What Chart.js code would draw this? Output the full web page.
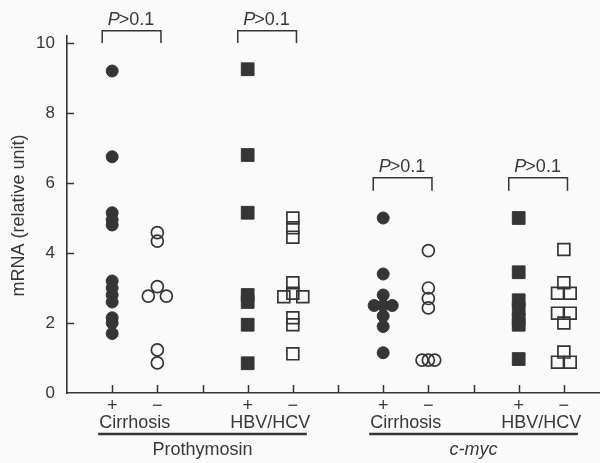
<!DOCTYPE html>
<html><head><meta charset="utf-8">
<script src="https://cdn.jsdelivr.net/npm/chart.js@4"></script>
<style>html,body{margin:0;padding:0;background:#fafafa}#wrap{width:600px;height:463px}</style>
</head><body><div id="wrap"><canvas id="c" width="600" height="463"></canvas></div>
<script>
// ---- data ----
const categories = ['Prothymosin Cirrhosis +','Prothymosin Cirrhosis −','Prothymosin HBV/HCV +','Prothymosin HBV/HCV −','c-myc Cirrhosis +','c-myc Cirrhosis −','c-myc HBV/HCV +','c-myc HBV/HCV −'];
const groupPositions = [1,2,4,5,7,8,10,11];
const xTickPositions = [1,2,3,4,5,6,7,8,9,10,11];
const signLabels = ['+','−'];
const subGroupLabels = ['Cirrhosis','HBV/HCV','Cirrhosis','HBV/HCV'];
const geneLabels = ['Prothymosin','c-myc'];
const yTicks = [0,2,4,6,8,10];
const yTitle = 'mRNA (relative unit)';
const pLabel = '>0.1';

const prothyCirrPos   = [9.2,6.75,5.15,4.95,4.8,3.2,3.0,2.8,2.6,2.15,2.0,1.7];
const prothyCirrPosDx = [0,0,0,0,0,0,0,0,0,0,0,0];
const prothyCirrNeg   = [4.58,4.34,3.04,2.77,2.77,1.23,0.86];
const prothyCirrNegDx = [0,0,0,-0.2,0.2,0,0];
const prothyHbvPos    = [9.25,6.8,5.15,2.8,2.6,1.95,0.85];
const prothyHbvPosDx  = [0,0,0,0,0,0,0];
const prothyHbvNeg    = [5.0,4.72,4.45,3.15,2.85,2.75,2.75,2.15,1.95,1.12];
const prothyHbvNegDx  = [0,0,0,0,0,-0.2,0.22,0,0,0];
const mycCirrPos      = [5.0,3.4,2.8,2.5,2.5,2.5,2.2,1.9,1.15];
const mycCirrPosDx    = [0,0,0,-0.2,0,0.2,0,0,0];
const mycCirrNeg      = [4.07,3.0,2.7,2.43,0.94,0.94,0.94];
const mycCirrNegDx    = [0,0,0,0,-0.14,0,0.14];
const mycHbvPos       = [5.0,3.45,2.65,2.4,2.1,1.95,0.97];
const mycHbvPosDx     = [0,0,0,0,0,0,0];
const mycHbvNeg       = [4.1,3.15,2.85,2.85,2.28,2.28,2.0,1.17,0.88,0.88];
const mycHbvNegDx     = [0,0,-0.14,0.14,-0.14,0.14,0,0,-0.14,0.14];

// brackets: [left group index, right group index, top value, leg bottom value]
const brackets = [[0,1,10.35,10.0],[2,3,10.35,10.0],[4,5,6.15,5.78],[6,7,6.15,5.78]];

const seriesValues = [prothyCirrPos,prothyCirrNeg,prothyHbvPos,prothyHbvNeg,mycCirrPos,mycCirrNeg,mycHbvPos,mycHbvNeg];
const seriesDx = [prothyCirrPosDx,prothyCirrNegDx,prothyHbvPosDx,prothyHbvNegDx,mycCirrPosDx,mycCirrNegDx,mycHbvPosDx,mycHbvNegDx];

const INK = '#353535';
const TXT = '#383838';
const FONT = '"Liberation Sans", Arial, sans-serif';

const datasets = categories.map((name, i) => {
  const filled = i % 2 === 0;
  const isRect = Math.floor(i / 2) % 2 === 1;
  return {
    label: name,
    data: seriesValues[i].map((v, k) => ({x: groupPositions[i] + seriesDx[i][k], y: v})),
    pointStyle: isRect ? 'rect' : 'circle',
    pointRadius: isRect ? (filled ? 9 : 8.4) : 6,
    pointBackgroundColor: filled ? INK : 'rgba(0,0,0,0)',
    pointBorderColor: INK,
    pointBorderWidth: filled ? 1 : 1.7,
    showLine: false
  };
});

const annot = {
  id: 'annot',
  afterDraw(chart) {
    const ctx = chart.ctx, xs = chart.scales.x, ys = chart.scales.y;
    const area = chart.chartArea;
    ctx.save();
    ctx.strokeStyle = INK; ctx.lineWidth = 1.5;
    // inward ticks
    xs.ticks.forEach(t => {
      const px = Math.round(xs.getPixelForValue(t.value)) + 0.5;
      ctx.beginPath(); ctx.moveTo(px, area.bottom); ctx.lineTo(px, area.bottom - 8); ctx.stroke();
    });
    ys.ticks.forEach(t => {
      if (t.value === 0) return;
      const py = Math.round(ys.getPixelForValue(t.value)) + 0.5;
      ctx.beginPath(); ctx.moveTo(area.left, py); ctx.lineTo(area.left + 7, py); ctx.stroke();
    });
    ctx.fillStyle = TXT;
    // y title
    ctx.save();
    ctx.translate(19, (area.top + area.bottom) / 2 + 1);
    ctx.rotate(-Math.PI / 2);
    ctx.textAlign = 'center'; ctx.textBaseline = 'middle';
    ctx.font = '18px ' + FONT;
    ctx.fillText(yTitle, 0, 0);
    ctx.restore();
    // subgroup labels
    ctx.textAlign = 'center'; ctx.textBaseline = 'alphabetic';
    ctx.font = '18px ' + FONT;
    subGroupLabels.forEach((lab, j) => {
      const cx = (xs.getPixelForValue(groupPositions[2*j]) + xs.getPixelForValue(groupPositions[2*j+1])) / 2;
      ctx.fillText(lab, cx, 428);
    });
    // gene underlines and labels
    geneLabels.forEach((lab, g) => {
      const p0 = groupPositions[4*g], p1 = groupPositions[4*g+3];
      const x0 = xs.getPixelForValue(p0 - 0.31), x1 = xs.getPixelForValue(p1 + 0.31);
      ctx.lineWidth = 2.5;
      ctx.beginPath(); ctx.moveTo(x0, 434); ctx.lineTo(x1, 434); ctx.stroke();
      ctx.font = (g === 1 ? 'italic ' : '') + '18px ' + FONT;
      ctx.fillText(lab, xs.getPixelForValue((p0 + p1) / 2), 455);
    });
    // brackets
    ctx.lineWidth = 1.5;
    brackets.forEach(b => {
      const x0 = xs.getPixelForValue(groupPositions[b[0]] - 0.22);
      const x1 = xs.getPixelForValue(groupPositions[b[1]] + 0.08);
      const yt = ys.getPixelForValue(b[2]), yb = ys.getPixelForValue(b[3]);
      ctx.beginPath(); ctx.moveTo(x0, yb); ctx.lineTo(x0, yt); ctx.lineTo(x1, yt); ctx.lineTo(x1, yb); ctx.stroke();
      const cx = (x0 + x1) / 2;
      ctx.font = 'italic 18px ' + FONT;
      const wP = ctx.measureText('P').width;
      ctx.font = '18px ' + FONT;
      const wR = ctx.measureText(pLabel).width;
      const start = cx - (wP + wR) / 2;
      ctx.textAlign = 'left';
      ctx.font = 'italic 18px ' + FONT;
      ctx.fillText('P', start, yt - 6);
      ctx.font = '18px ' + FONT;
      ctx.fillText(pLabel, start + wP - 1, yt - 6);
      ctx.textAlign = 'center';
    });
    ctx.restore();
  }
};

new Chart(document.getElementById('c'), {
  type: 'scatter',
  data: {datasets},
  plugins: [annot],
  options: {
    responsive: false,
    animation: false,
    devicePixelRatio: 1,
    layout: {autoPadding: false, padding: {top: 36, right: 0, bottom: 0, left: 0}},
    plugins: {legend: {display: false}, tooltip: {enabled: false}},
    scales: {
      x: {
        type: 'linear', min: 0, max: 11.8,
        afterBuildTicks: s => { s.ticks = xTickPositions.map(v => ({value: v})); },
        afterFit: s => { s.height = 70; s.paddingRight = 0; s.paddingLeft = 0; },
        grid: {display: false, drawTicks: false},
        border: {display: true, color: INK, width: 1.6},
        ticks: {
          autoSkip: false, maxRotation: 0, padding: 2,
          color: TXT, font: {family: FONT, size: 18},
          callback: v => { const i = groupPositions.indexOf(v); return i < 0 ? '' : signLabels[i % 2]; }
        }
      },
      y: {
        type: 'linear', min: 0, max: 10.2,
        afterBuildTicks: s => { s.ticks = yTicks.map(v => ({value: v})); },
        afterFit: s => { s.width = 67; s.paddingTop = 0; s.paddingBottom = 0; },
        grid: {display: false, drawTicks: false},
        border: {display: true, color: INK, width: 1.6},
        title: {display: false},
        ticks: {padding: 12, color: TXT, font: {family: FONT, size: 17}}
      }
    }
  }
});
</script></body></html>
